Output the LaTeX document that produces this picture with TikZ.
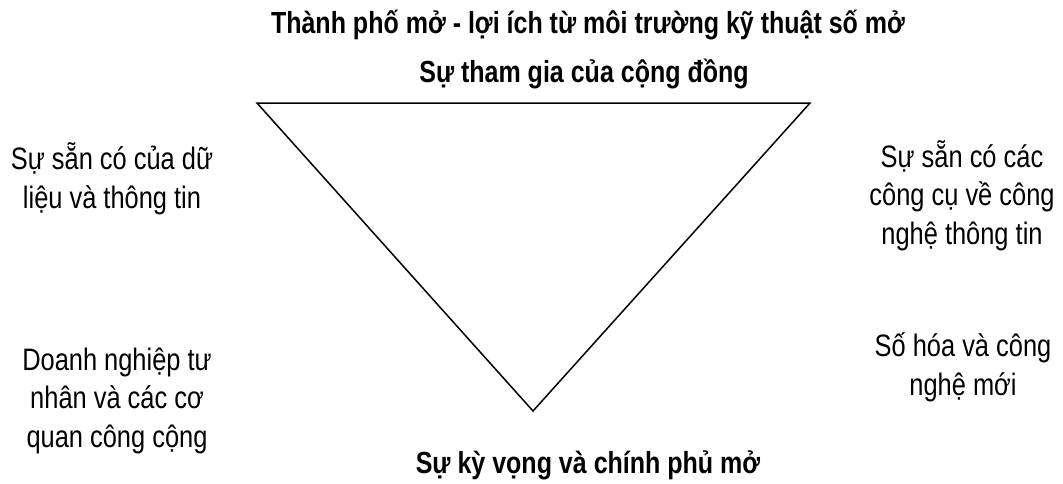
\documentclass[tikz,border=0pt]{standalone}
\usepackage{fontspec}
\setmainfont{Liberation Sans}[FakeStretch=0.82]
\usetikzlibrary{positioning}
\tikzset{
  lbl/.style={align=center, anchor=base, font=\fontsize{31}{38.5}\selectfont, inner sep=0pt},
  ttl/.style={align=center, anchor=base, font=\fontsize{30.5}{38.5}\selectfont\bfseries, inner sep=0pt},
  tri/.style={draw=black, line width=1.5pt, line join=miter}
}
\begin{document}
\begin{tikzpicture}[x=1pt,y=-1pt]
  \useasboundingbox (0,0) rectangle (1063,483);
  % triangle
  \coordinate (tl) at (257,103);
  \coordinate (tr) at (810,103);
  \coordinate (bt) at (533,411);
  \draw[tri] (tl) -- (tr) -- (bt) -- cycle;
  % titles
  \node[ttl] (head) at (588,33) {Thành phố mở - lợi ích từ môi trường kỹ thuật số mở};
  \node[ttl] (top) at (584,82) {Sự tham gia của cộng đồng};
  \node[ttl] (bottom) at (588,473) {Sự kỳ vọng và chính phủ mở};
  % side labels (anchored at the last line)
  \node[lbl] (data) at (112,208) {Sự sẵn có của dữ\\liệu và thông tin};
  \node[lbl] (biz) at (117,447) {Doanh nghiệp tư\\nhân và các cơ\\quan công cộng};
  \node[lbl] (tools) at (962,244) {Sự sẵn có các\\công cụ về công\\nghệ thông tin};
  \node[lbl] (digital) at (963,395) {Số hóa và công\\nghệ mới};
\end{tikzpicture}
\end{document}
